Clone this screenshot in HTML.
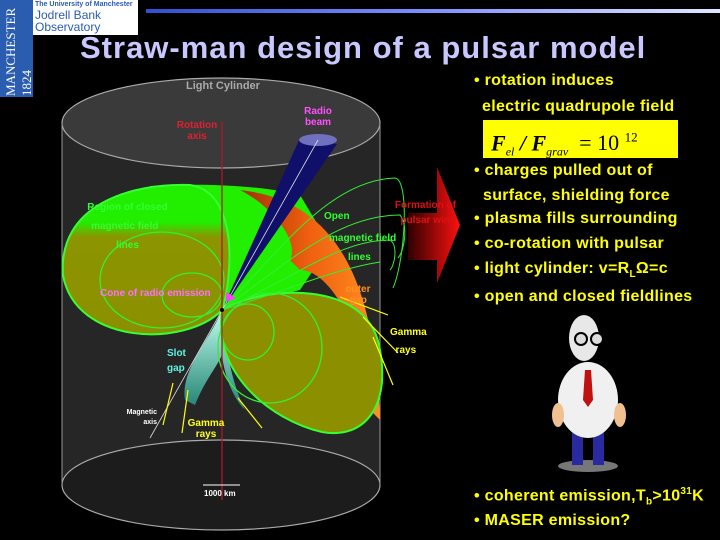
<!DOCTYPE html>
<html><head><meta charset="utf-8"><style>
body{margin:0;background:#000;}
#w{position:relative;width:720px;height:540px;overflow:hidden;background:#000;font-family:"Liberation Sans",sans-serif;}
.y{position:absolute;color:#ffff00;font-weight:bold;font-size:16px;white-space:nowrap;letter-spacing:0.3px}
</style></head><body><div id="w">
<svg width="720" height="540" style="position:absolute;left:0;top:0">
<defs>
<linearGradient id="bl" x1="0" x2="1"><stop offset="0" stop-color="#3050d0"/><stop offset="0.5" stop-color="#8090ff"/><stop offset="1" stop-color="#e0e8ff"/></linearGradient>
<linearGradient id="ll" x1="0" y1="0" x2="0" y2="1"><stop offset="0" stop-color="#22ee00"/><stop offset="0.25" stop-color="#22ee00"/><stop offset="0.35" stop-color="#8c9400"/><stop offset="1" stop-color="#8c9000"/></linearGradient>
<linearGradient id="ra" x1="0" x2="1"><stop offset="0" stop-color="#300000"/><stop offset="1" stop-color="#ff1010"/></linearGradient>
<linearGradient id="or" x1="0" x2="1"><stop offset="0" stop-color="#a03000"/><stop offset="0.5" stop-color="#f06010"/><stop offset="1" stop-color="#ff9020"/></linearGradient>
<linearGradient id="cy" x1="0" y1="0" x2="0" y2="1"><stop offset="0" stop-color="#c0fff0"/><stop offset="1" stop-color="#208070"/></linearGradient>
</defs>
<rect x="0" y="0" width="33" height="97" fill="#2a5cb0"/>
<rect x="33" y="0" width="105" height="35" fill="#fff"/>
<rect x="146" y="9" width="574" height="4" fill="url(#bl)"/>
<rect x="62" y="123" width="318" height="362" fill="#262626"/>
<ellipse cx="221" cy="123" rx="159" ry="45" fill="#3a3a3a" stroke="#aaa" stroke-width="1.2"/>
<ellipse cx="221" cy="485" rx="159" ry="45" fill="#1c1c1c" stroke="#aaa" stroke-width="1.2"/>
<line x1="62" y1="123" x2="62" y2="485" stroke="#999"/>
<line x1="380" y1="123" x2="380" y2="485" stroke="#999"/>
<path d="M222,310 L150,186 C200,183 260,185 300,195 L330,245 L300,290 Z" fill="#22ee00"/>
<path d="M240,190 C330,200 375,270 380,420 L370,410 C365,330 330,270 300,270 L290,260 C300,240 270,205 240,190 Z" fill="url(#or)"/>
<polygon points="222,310 300,138 337,144" fill="#10106a"/>
<ellipse cx="318" cy="140" rx="19" ry="6" fill="#7070c0"/>
<path d="M222,310 C185,348 75,345 63,275 C58,205 130,183 190,185 C240,192 232,280 222,310 Z" fill="url(#ll)" stroke="#33ff33" stroke-width="2"/>
<ellipse cx="162" cy="280" rx="62" ry="48" fill="none" stroke="#33ee33" stroke-width="1.3"/>
<ellipse cx="192" cy="295" rx="30" ry="22" fill="none" stroke="#33ee33" stroke-width="1.3"/>
<path d="M222,310 C210,340 180,370 185,400 L195,405 C205,380 215,370 222,355 C225,380 235,400 245,410 C230,380 225,340 222,310 Z" fill="url(#cy)"/>
<path d="M222,310 C265,285 365,280 379,345 C392,405 365,440 322,432 C270,420 212,372 222,310 Z" fill="#8c9000" stroke="#33ff33" stroke-width="2"/>
<ellipse cx="270" cy="348" rx="52" ry="55" fill="none" stroke="#33ee33" stroke-width="1.3"/>
<ellipse cx="248" cy="332" rx="26" ry="28" fill="none" stroke="#33ee33" stroke-width="1.3"/>
<g fill="none" stroke="#33ee33" stroke-width="1">
<path d="M222,310 C280,250 330,180 395,178 C410,180 405,260 393,288"/>
<path d="M222,310 C290,260 340,215 400,215 C408,225 405,250 398,258"/>
<path d="M222,310 C300,275 340,240 390,240 C398,245 395,265 390,270"/>
<path d="M222,310 C290,290 330,270 380,262"/>
</g>
<line x1="222" y1="122" x2="222" y2="500" stroke="#b01828" stroke-width="1.3"/>
<line x1="318" y1="140" x2="150" y2="438" stroke="#ddd" stroke-width="0.8"/>
<polygon points="226,292 236,298 226,302" fill="#ff40ff"/>
<circle cx="222" cy="310" r="2" fill="#000"/>
<polygon points="408,213 437,213 437,167 460,225 437,283 437,260 408,260" fill="url(#ra)"/>
<g stroke="#ffff00" stroke-width="1.2" fill="#ffff00">
<line x1="340" y1="297" x2="388" y2="315"/><line x1="363" y1="317" x2="398" y2="353"/><line x1="373" y1="337" x2="393" y2="385"/>
<line x1="173" y1="383" x2="163" y2="425"/><line x1="188" y1="390" x2="182" y2="433"/><line x1="238" y1="398" x2="262" y2="428"/>
</g>
<line x1="203" y1="485" x2="240" y2="485" stroke="#fff" stroke-width="1"/>
<ellipse cx="588" cy="466" rx="30" ry="6" fill="#777"/>
<rect x="572" y="420" width="11" height="45" fill="#2a2aa0"/><rect x="593" y="420" width="11" height="45" fill="#2a2aa0"/>
<ellipse cx="588" cy="400" rx="30" ry="38" fill="#f0f0f0"/>
<polygon points="585,370 591,370 593,400 588,407 583,400" fill="#c01010"/>
<ellipse cx="558" cy="415" rx="6" ry="12" fill="#f0c090"/><ellipse cx="620" cy="415" rx="6" ry="12" fill="#f0c090"/>
<ellipse cx="584" cy="338" rx="15" ry="23" fill="#e8e8e8"/>
<circle cx="581" cy="339" r="6" fill="#ddd" stroke="#000" stroke-width="2"/><circle cx="597" cy="339" r="6" fill="#ddd" stroke="#000" stroke-width="2"/>
</svg>
<div style="position:absolute;left:3px;top:96px;transform:rotate(-90deg);transform-origin:0 0;color:#fff;font:13px 'Liberation Serif',serif;width:95px;">MANCHESTER 1824</div>
<div style="position:absolute;left:35px;top:1px;color:#2a5cb0;font-size:7px;font-weight:bold;white-space:nowrap">The University of Manchester</div>
<div style="position:absolute;left:35px;top:9px;color:#2a5cb0;font-size:12px;line-height:12px">Jodrell Bank<br>Observatory</div>
<div style="position:absolute;left:80px;top:30px;color:#c8c8ff;font-size:31px;font-weight:bold;white-space:nowrap;letter-spacing:1px">Straw-man design of a pulsar model</div>
<div style="position:absolute;left:0;top:0;font-weight:bold;font-size:10px;">
<span style="position:absolute;left:186px;top:80px;color:#aaa;font-size:11px;white-space:nowrap">Light Cylinder</span>
<span style="position:absolute;left:172px;top:120px;color:#e02030;text-align:center;width:50px">Rotation axis</span>
<span style="position:absolute;left:300px;top:106px;color:#ff50ff;text-align:center;width:36px">Radio beam</span>
<span style="position:absolute;left:85px;top:198px;color:#30ff30;width:85px;line-height:19px;text-align:center">Region of closed magnetic field&nbsp;&nbsp; lines</span>
<span style="position:absolute;left:324px;top:211px;color:#30ff30">Open</span>
<span style="position:absolute;left:329px;top:233px;color:#30ff30;white-space:nowrap">magnetic field</span>
<span style="position:absolute;left:348px;top:252px;color:#30ff30">lines</span>
<span style="position:absolute;left:394px;top:198px;color:#e01010;width:62px;text-align:right;line-height:15px">Formation of pulsar wind</span>
<span style="position:absolute;left:100px;top:288px;color:#ff70ff;white-space:nowrap">Cone of radio emission</span>
<span style="position:absolute;left:338px;top:284px;color:#ff9020;width:40px;text-align:center;line-height:11px">outer gap</span>
<span style="position:absolute;left:390px;top:324px;color:#ffff20;line-height:18px">Gamma<br>&nbsp;&nbsp;rays</span>
<span style="position:absolute;left:167px;top:346px;color:#60f0e0;line-height:15px">Slot<br>gap</span>
<span style="position:absolute;left:125px;top:408px;color:#fff;font-size:7px;line-height:10px;text-align:right;width:32px">Magnetic axis</span>
<span style="position:absolute;left:186px;top:418px;color:#ffff20;line-height:11px;text-align:center;width:40px">Gamma rays</span>
<span style="position:absolute;left:204px;top:489px;color:#fff;font-size:8px;white-space:nowrap">1000 km</span>
</div>
<div class="y" style="left:474px;top:72px">• rotation induces</div>
<div class="y" style="left:482px;top:98px">electric quadrupole field</div>
<div style="position:absolute;left:483px;top:120px;width:195px;height:38px;background:#ffff00;color:#000;font:italic bold 22px 'Liberation Serif',serif;white-space:nowrap;line-height:36px;padding-left:8px;box-sizing:border-box">F<sub style="font-size:12px;font-weight:normal">el</sub> / F<sub style="font-size:12px;font-weight:normal">grav</sub> <span style="font-style:normal;font-weight:normal">&nbsp;= 10 <sup style="font-size:13px">12</sup></span></div>
<div class="y" style="left:474px;top:162px">• charges pulled out of</div>
<div class="y" style="left:483px;top:187px">surface, shielding force</div>
<div class="y" style="left:474px;top:210px">• plasma fills surrounding</div>
<div class="y" style="left:474px;top:235px">• co-rotation with pulsar</div>
<div class="y" style="left:474px;top:260px">• light cylinder: v=R<sub style="font-size:10px">L</sub>Ω=c</div>
<div class="y" style="left:474px;top:288px">• open and closed fieldlines</div>
<div class="y" style="left:474px;top:486px">• coherent emission,T<sub style="font-size:10px">b</sub>&gt;10<sup style="font-size:10px">31</sup>K</div>
<div class="y" style="left:474px;top:512px">• MASER emission?</div>
</div></body></html>
